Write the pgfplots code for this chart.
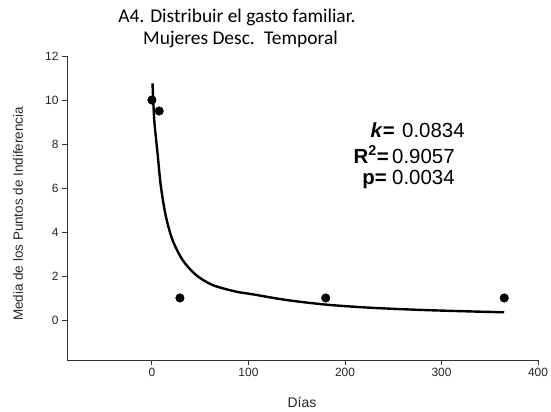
\documentclass[border=0pt]{standalone}
\usepackage{fontspec}
\setmainfont{Liberation Sans}
\newfontfamily\titlefont{Carlito}
\usepackage{pgfplots}
\pgfplotsset{compat=1.18}
\begin{document}
\begin{tikzpicture}[x=1bp,y=1bp]
\useasboundingbox (0,0) rectangle (551,-411);
\begin{axis}[
 at={(67bp,-360bp)}, anchor=south west,
 scale only axis, width=471bp, height=304bp,
 xmin=-88, xmax=400, ymin=-1.82, ymax=12,
 axis lines=left, axis line style={-, line width=0.9bp, black!80},
 xtick={0,100,200,300,400}, ytick={0,2,4,6,8,10,12},
 tick align=outside, major tick length=5bp,
 tick style={line width=0.9bp, black!80},
 tick label style={font=\fontsize{12}{14}\selectfont, black!85},
 /pgf/number format/assume math mode=true,
 clip=false,
]
\addplot[line width=2.4bp, smooth, black] coordinates {
(0.6,10.76) (2.4,9.09) (5.8,7.58) (9.3,6.06) (14.5,4.70) (21.3,3.64) (31.7,2.73)
(45.6,2.05) (62.8,1.59) (87,1.29) (104,1.17) (139,0.91) (180,0.70) (225,0.56)
(277,0.46) (329,0.39) (365,0.35)};
\addplot[only marks, mark=*, mark size=4.3bp, black] coordinates {
(0,10) (7.5,9.5) (29,1) (180,1) (365,1)};
\end{axis}
\node[font=\titlefont\fontsize{19.5}{22}\selectfont, anchor=base, inner sep=0pt] at (237,-22.7) {A4. Distribuir el gasto familiar.};
\node[font=\titlefont\fontsize{19.5}{22}\selectfont, anchor=base, inner sep=0pt] at (240.5,-44) {Mujeres Desc.\hspace{3.5bp} Temporal};
\node[font=\fontsize{13.5}{15}\selectfont, rotate=90, black!85] at (18,-214) {Media de los Puntos de Indiferencia};
\node[font=\fontsize{14}{16}\selectfont, black!85] at (302,-402) {Días};
\begin{scope}[every node/.style={inner sep=0pt, font=\fontsize{20.5}{24}\selectfont}]
\node[anchor=base east] at (395,-137.7) {\textbf{\textit{k}=}};
\node[anchor=base west] at (402,-137.7) {0.0834};
\node[anchor=base east] at (389,-163.3) {\textbf{R\textsuperscript{2}=}};
\node[anchor=base west] at (392,-163.3) {0.9057};
\node[anchor=base east] at (387,-184.3) {\textbf{p=}};
\node[anchor=base west] at (392,-184.3) {0.0034};
\end{scope}
\end{tikzpicture}
\end{document}
